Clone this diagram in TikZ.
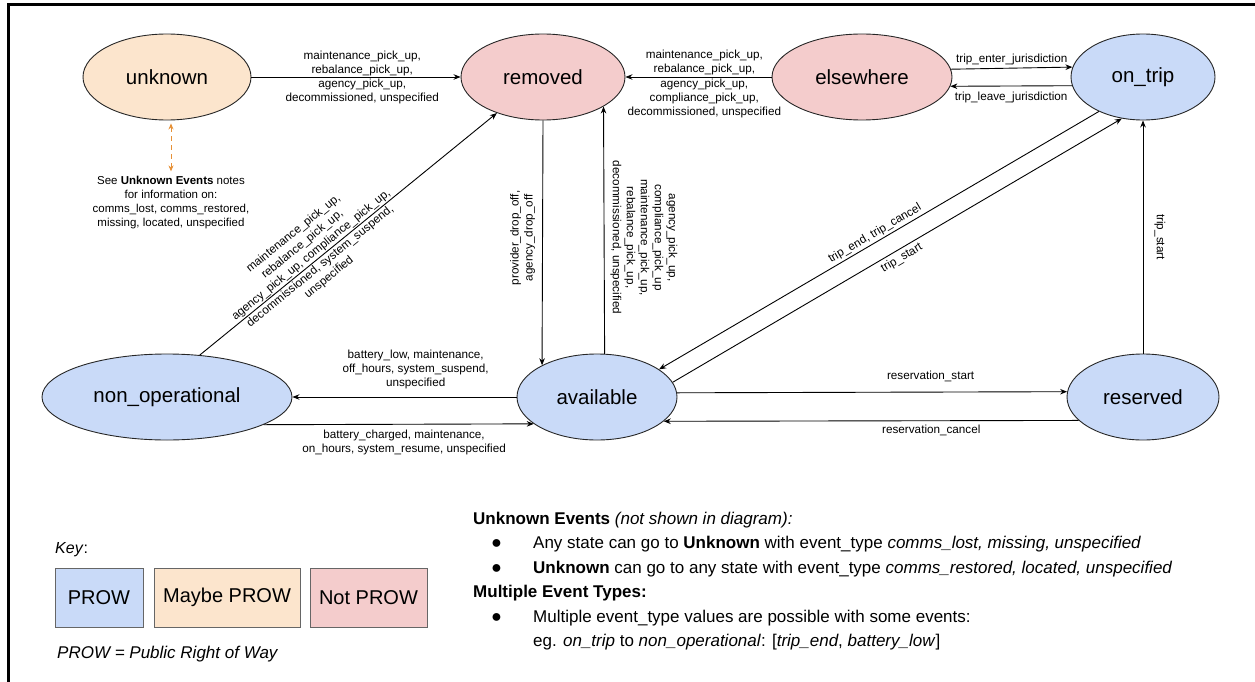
\documentclass[tikz,border=0pt]{standalone}
\usepackage{fontspec}
\setmainfont{Liberation Sans}
\usepackage{xcolor}
\usetikzlibrary{shapes,arrows.meta,positioning}

\definecolor{prowblue}{HTML}{C9DAF8}
\definecolor{maybeorange}{HTML}{FCE5CD}
\definecolor{notpink}{HTML}{F4CCCC}
\definecolor{unkorange}{HTML}{E69138}

\begin{document}
\begin{tikzpicture}[x=1pt, y=-1pt,
  state/.style={ellipse, draw=black!85, line width=0.9pt, inner sep=0pt, minimum height=86pt, font=\fontsize{20.5}{24}\selectfont},
  keybox/.style={rectangle, draw=black!60, line width=0.9pt, minimum height=59pt, font=\fontsize{20}{24}\selectfont},
  lbl/.style={font=\fontsize{11.7}{14}\selectfont, align=center, inner sep=2pt},
  arrow/.style={line width=0.9pt, ->, >={Stealth[length=7pt, width=5.5pt]}},
  unkarrow/.style={line width=1pt, unkorange, dash pattern=on 5pt off 4pt, <->, >={Stealth[length=6pt, width=5pt]}}
]
\useasboundingbox (0,0) rectangle (1255,682);

% Frame
\draw[line width=3pt] (8.5,682) -- (8.5,4.5) -- (1255,4.5);

% States
\node[state, fill=maybeorange, minimum width=168pt] (unknown) at (167,77) {unknown};
\node[state, fill=notpink, minimum width=164pt] (removed) at (543,77) {removed};
\node[state, fill=notpink, minimum width=180pt] (elsewhere) at (862,77) {elsewhere};
\node[state, fill=prowblue, minimum width=144pt] (ontrip) at (1143,77) {on\_trip};
\node[state, fill=prowblue, minimum width=250pt] (nonop) at (167,397) {non\_operational};
\node[state, fill=prowblue, minimum width=160pt] (available) at (597,397) {available};
\node[state, fill=prowblue, minimum width=152pt] (reserved) at (1143,397) {reserved};

% Transitions into removed
\draw[arrow] (unknown) -- node[lbl, above, pos=0.53, inner sep=1pt] {maintenance\_pick\_up,\\rebalance\_pick\_up,} node[lbl, below, pos=0.53, inner sep=2pt] {agency\_pick\_up,\\decommissioned, unspecified} (removed);
\draw[arrow] (elsewhere) -- node[lbl, above, pos=0.46] {maintenance\_pick\_up,\\rebalance\_pick\_up,} node[lbl, below, pos=0.46] {agency\_pick\_up,\\compliance\_pick\_up,\\decommissioned, unspecified} (removed);
\draw[arrow] (nonop.52.9) -- node[lbl, sloped, above, pos=0.39, inner sep=1pt] {maintenance\_pick\_up,\\rebalance\_pick\_up,\\agency\_pick\_up, compliance\_pick\_up,} node[lbl, sloped, below, pos=0.39, inner sep=1.5pt] {decommissioned, system\_suspend,\\unspecified} (removed.218.8);
\draw[arrow] (available.80.7) -- node[lbl, rotate=-90, anchor=south, pos=0.47, inner sep=6pt] {agency\_pick\_up,\\compliance\_pick\_up\\maintenance\_pick\_up,\\rebalance\_pick\_up,\\decommissioned, unspecified} (removed.334.8);
\draw[arrow] (removed.south) -- node[lbl, rotate=90, anchor=south, pos=0.48, inner sep=7pt] {provider\_drop\_off,\\agency\_drop\_off} (available.150.4);

% elsewhere and on_trip
\draw[arrow] (elsewhere.5.8) -- node[lbl, above, inner sep=3pt] {trip\_enter\_jurisdiction} (ontrip.172.7);
\draw[arrow] (ontrip.187.3) -- node[lbl, below, inner sep=6pt] {trip\_leave\_jurisdiction} (elsewhere.354.2);
\draw[arrow] (ontrip.218.1) -- node[lbl, sloped, above, inner sep=2pt] {trip\_end, trip\_cancel} (available.24.4);
\draw[arrow] (available.11.2) -- node[lbl, sloped, below, inner sep=3pt] {trip\_start} (ontrip.243);
\draw[arrow] (reserved) -- node[lbl, rotate=-90, anchor=south, inner sep=11pt] {trip\_start} (ontrip);

% available and the bottom row
\draw[arrow] (available.west) -- node[lbl, above, pos=0.45, inner sep=8pt] {battery\_low, maintenance,\\off\_hours, system\_suspend,\\unspecified} (nonop.east);
\draw[arrow] (nonop.344.5) -- node[lbl, below, pos=0.52, inner sep=5pt] {battery\_charged, maintenance,\\on\_hours, system\_resume, unspecified} (available.203.5);
\draw[arrow] (available.3.6) -- node[lbl, above, pos=0.65, inner sep=10pt] {reservation\_start} (reserved.176.2);
\draw[arrow] (reserved.200.9) -- node[lbl, below, pos=0.355, inner sep=4pt] {reservation\_cancel} (available.340.1);

% Unknown note
\node[lbl, font=\fontsize{11.5}{14}\selectfont] (note) at (171,203) {See \textbf{Unknown Events} notes\\for information on:\\comms\_lost, comms\_restored,\\missing, located, unspecified};
\draw[unkarrow, shorten <=3pt, shorten >=3pt] (note.north |- unknown.south) -- (note.north);

% Key
\node[anchor=base west, inner sep=0pt, font=\fontsize{16}{19}\selectfont] (keylabel) at (55,553) {\textit{Key}:};
\node[keybox, fill=prowblue, minimum width=88pt] (prow) at (99,597.5) {PROW};
\node[keybox, fill=maybeorange, minimum width=146pt] (maybeprow) at (227,597.5) {Maybe PROW};
\node[keybox, fill=notpink, minimum width=117pt] (notprow) at (368.5,597.5) {Not PROW};
\node[anchor=base west, inner sep=0pt, font=\fontsize{17}{19}\selectfont\itshape] (prowdef) at (57,658) {PROW = Public Right of Way};

% Notes
\node[anchor=north west, align=left, inner sep=0pt, font=\fontsize{17}{24.5}\selectfont] (notes) at (473,511.5) {%
\textbf{Unknown Events} \textit{(not shown in diagram):}\\
\hspace*{18pt}\makebox[42pt][l]{\fontsize{18}{18}\selectfont ●}Any state can go to \textbf{Unknown} with event\_type \textit{comms\_lost, missing, unspecified}\\
\hspace*{18pt}\makebox[42pt][l]{\fontsize{18}{18}\selectfont ●}\textbf{Unknown} can go to any state with event\_type \textit{comms\_restored, located, unspecified}\\
\textbf{Multiple Event Types:}\\
\hspace*{18pt}\makebox[42pt][l]{\fontsize{18}{18}\selectfont ●}Multiple event\_type values are possible with some events:\\
\hspace*{60pt}eg. \textit{on\_trip} to \textit{non\_operational}: [\textit{trip\_end}, \textit{battery\_low}]};

\end{tikzpicture}
\end{document}
